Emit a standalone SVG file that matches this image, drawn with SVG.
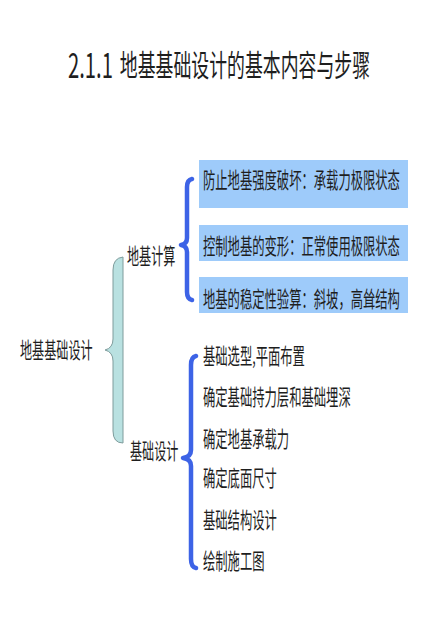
<svg xmlns="http://www.w3.org/2000/svg" width="440" height="620" viewBox="0 0 440 620">
<style>
text{font-family:"Noto Sans CJK SC","Noto Sans",sans-serif;fill:#1e1e1e;dominant-baseline:central;}
.t{font-size:22px;}
.box{fill:#9ecbfa;}
.bb{fill:none;stroke:#3d63e6;stroke-width:4.5;stroke-linejoin:round;stroke-linecap:round;}
.cb{fill:#b9e1e1;stroke:#7f9c9c;stroke-width:1;}
</style>
<rect width="440" height="620" fill="#ffffff"/>
<g id="title"><text transform="translate(0,63) scale(0.596,1)" style="font-size:30px"><tspan x="114" style="font-size:34px">2.1.1</tspan><tspan x="201">地基基础设计的基本内容与步骤</tspan></text></g>
<g id="connectors">
<path class="cb" d="M123,257 Q113,258 113,270 L113,339 Q113,348 105,350 Q113,352 113,361 L113,431 Q113,443 123,443 Z"/>
<path class="bb" d="M192,179 Q187,180 187,187 L187,238 Q187,244 181,245 Q187,246 187,252 L187,292 Q187,299 192,300"/>
<path class="bb" d="M196,356 Q191,357 191,365 L191,450 Q191,457 183,458 Q191,459 191,466 L191,559 Q191,567 196,568"/>
</g>
<g id="root"><text class="t" transform="translate(20,348) scale(0.55,1)">地基基础设计</text></g>
<g id="calc"><text class="t" transform="translate(127,254) scale(0.55,1)">地基计算</text></g>
<g id="design"><text class="t" transform="translate(130,449) scale(0.55,1)">基础设计</text></g>
<g id="c1"><rect class="box" x="199" y="160" width="209" height="48"/><text class="t" transform="translate(203,178) scale(0.56,1)">防止地基强度破坏：承载力极限状态</text></g>
<g id="c2"><rect class="box" x="199" y="225" width="209" height="36"/><text class="t" transform="translate(203,244) scale(0.56,1)">控制地基的变形：正常使用极限状态</text></g>
<g id="c3"><rect class="box" x="199" y="277" width="209" height="36"/><text class="t" transform="translate(203,297) scale(0.56,1)">地基的稳定性验算：斜坡，高耸结构</text></g>
<g id="d1"><text class="t" transform="translate(203,354) scale(0.56,1)">基础选型,平面布置</text></g>
<g id="d2"><text class="t" transform="translate(203,395) scale(0.56,1)">确定基础持力层和基础埋深</text></g>
<g id="d3"><text class="t" transform="translate(203,437) scale(0.56,1)">确定地基承载力</text></g>
<g id="d4"><text class="t" transform="translate(203,476) scale(0.56,1)">确定底面尺寸</text></g>
<g id="d5"><text class="t" transform="translate(203,518) scale(0.56,1)">基础结构设计</text></g>
<g id="d6"><text class="t" transform="translate(203,559) scale(0.56,1)">绘制施工图</text></g>
</svg>
